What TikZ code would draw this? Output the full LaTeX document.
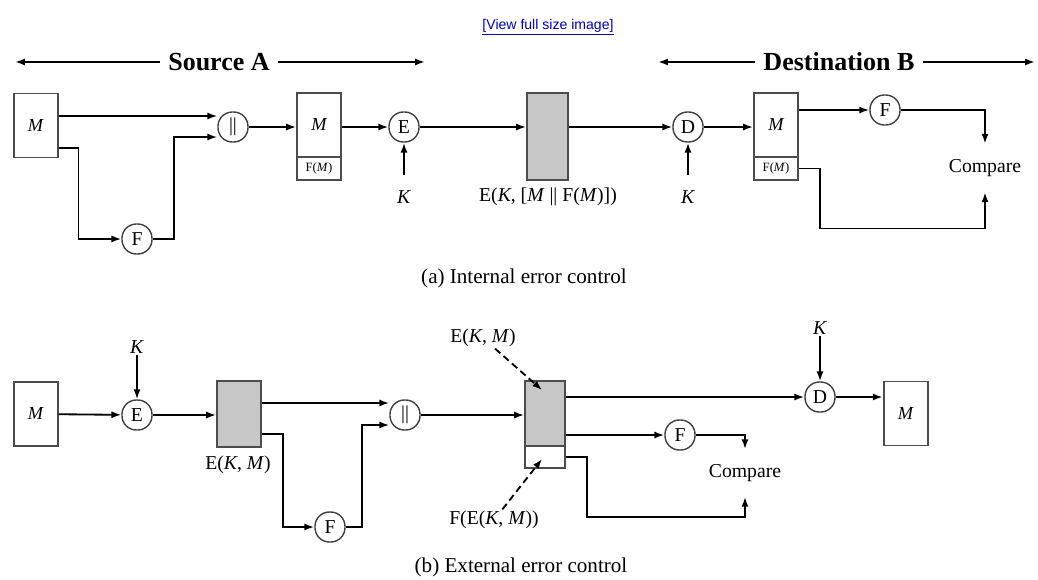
\documentclass[tikz,border=0pt]{standalone}
\usepackage{fontspec}
\setmainfont{Liberation Serif}
\newfontfamily\linkfont{Liberation Sans}
\usetikzlibrary{arrows.meta,calc}
\tikzset{
  arr/.style={line width=1.3pt,-{Latex[length=7pt,width=5pt]}},
  dasharr/.style={arr,dashed,dash pattern=on 5pt off 3pt},
  mbox/.style={draw=black!70,line width=1.3pt,minimum width=1.1cm,minimum height=1.6cm,inner sep=0pt,font=\fontsize{13}{15}\selectfont\itshape},
  subbox/.style={mbox,minimum height=0.575cm,font=\fontsize{9}{10}\selectfont},
  greybox/.style={mbox,fill=black!22},
  op/.style={draw=black!75,line width=1pt,rounded corners=0.36cm,minimum size=0.75cm,inner sep=0pt,font=\fontsize{14}{16}\selectfont},
  lbl/.style={inner sep=1pt,font=\fontsize{14}{16}\selectfont},
  cmp/.style={lbl,minimum height=1.2cm},
  caption/.style={inner sep=1pt,font=\fontsize{15}{17}\selectfont},
  title/.style={fill=white,inner sep=6pt,font=\fontsize{18.5}{20}\selectfont\bfseries},
  linkstyle/.style={inner sep=1pt,text=blue!70!black,font=\linkfont\fontsize{10}{12}\selectfont}
}
\begin{document}
\begin{tikzpicture}[x=0.025cm,y=-0.025cm]
    \useasboundingbox (0,0) rectangle (1038,579);
    \node[linkstyle] (view) at (548,27) {\underline{[View full size image]}};
    \coordinate (srcL) at (15,62);
    \coordinate (srcR) at (425,62);
    \coordinate (dstL) at (658,62);
    \coordinate (dstR) at (1035,62);
    \node[title] (srcA) at (219,62) {Source A};
    \node[title] (dstB) at (839,62) {Destination B};
    \draw[arr] (srcA) -- (srcL);
    \draw[arr] (srcA) -- (srcR);
    \draw[arr] (dstB) -- (dstL);
    \draw[arr] (dstB) -- (dstR);
    \node[mbox] (aM) at (35.6,125.5) {M};
    \node[op] (aH) at (233,127) {||};
    \node[op] (aF) at (137,239) {F};
    \node[mbox] (aMb) at (319,125) {M};
    \node[subbox] (aFb) at (319,168.5) {F(\textit{M})};
    \node[op] (aE) at (404,127) {E};
    \node[lbl] (aK) at (404,197) {\textit{K}};
    \node[greybox,minimum width=1.025cm,minimum height=2.175cm] (aC) at (547.5,136.5) {};
    \node[lbl] (aCl) at (548,197) {E(\textit{K}, [\textit{M} || F(\textit{M})])};
    \node[op] (aD) at (688,127) {D};
    \node[lbl] (aK2) at (688,197) {\textit{K}};
    \node[mbox] (aMd) at (776,125) {M};
    \node[subbox] (aFd) at (776,168.5) {F(\textit{M})};
    \node[op] (aF2) at (885,110) {F};
    \node[cmp] (aCmp) at (985,168) {Compare};
    \draw[arr] (aM.east) ++(0,-9.5) -- ($(aH.west)+(0,-11)$);
    \draw[arr] (aM.east) ++(0,22.5) -- ++(20,0) |- (aF);
    \draw[arr] (aF) -- ++(37,0) |- ($(aH.west)+(0,10)$);
    \draw[arr] (aH) -- (aH -| aMb.west);
    \draw[arr] (aMb.east) ++(0,2) -- (aE);
    \draw[arr] (aK) ++(0,-22) -- (aE);
    \draw[arr] (aE) -- (aE -| aC.west);
    \draw[arr] (aC.east) ++(0,-9.5) -- (aD);
    \draw[arr] (aK2) ++(0,-22) -- (aD);
    \draw[arr] (aD) -- (aD -| aMd.west);
    \draw[arr] (aMd.east) ++(0,-15) -- (aF2);
    \draw[arr] (aF2) -| (aCmp.north);
    \draw[arr] (aFd.east) -- ++(21,0) -- ++(0,60) -| (aCmp.south);
    \node[caption] (capA) at (524,278) {(a) Internal error control};
    \node[mbox] (bM) at (35.6,414) {M};
    \node[op] (bE) at (137,415) {E};
    \node[lbl] (bK) at (137,347) {\textit{K}};
    \node[greybox,minimum height=1.65cm] (bG) at (239,414) {};
    \node[lbl] (bGl) at (238,465) {E(\textit{K}, \textit{M})};
    \node[op] (bH) at (405,415) {||};
    \node[op] (bF) at (330,527) {F};
    \node[greybox,minimum width=1cm,minimum height=1.625cm] (bS) at (545,413.5) {};
    \node[mbox,minimum width=1cm,minimum height=0.55cm] (bSw) at (545,457) {};
    \node[lbl] (lEKM) at (483,338) {E(\textit{K}, \textit{M})};
    \node[lbl] (lFE) at (494,520) {F(E(\textit{K}, \textit{M}))};
    \node[op] (bD) at (820,397) {D};
    \node[lbl] (bK2) at (820,328) {\textit{K}};
    \node[mbox] (bM2) at (905.6,413.5) {M};
    \node[op] (bF2) at (680,435) {F};
    \node[cmp,minimum height=1.18cm] (bCmp) at (745,473) {Compare};
    \draw[arr] (bM) -- (bE);
    \draw[arr] (bK) -- (bE);
    \draw[arr] (bE) -- (bE -| bG.west);
    \draw[arr] (bG.east) ++(0,-11) -- ($(bH.west)+(0,-12)$);
    \draw[arr] (bG.east) ++(0,20) -- ++(21,0) |- (bF);
    \draw[arr] (bF) -- ++(32,0) |- ($(bH.west)+(0,10)$);
    \draw[arr] (bH) -- (bH -| bS.west);
    \draw[arr] (bS.east) ++(0,-16.5) -- (bD);
    \draw[arr] (bK2) -- (bD);
    \draw[arr] (bD) -- (bD -| bM2.west);
    \draw[arr] (bS.east) ++(0,21.5) -- (bF2);
    \draw[arr] (bF2) -| (bCmp.north);
    \draw[arr] (bSw.east) -- ++(21,0) -- ++(0,60) -| (bCmp.south);
    \draw[dasharr] (lEKM) -- ($(bS.north west)+(18,10)$);
    \draw[dasharr] (lFE) -- ($(bSw.south west)+(18,-10)$);
    \node[caption] (capB) at (521,567) {(b) External error control};
\end{tikzpicture}
\end{document}
